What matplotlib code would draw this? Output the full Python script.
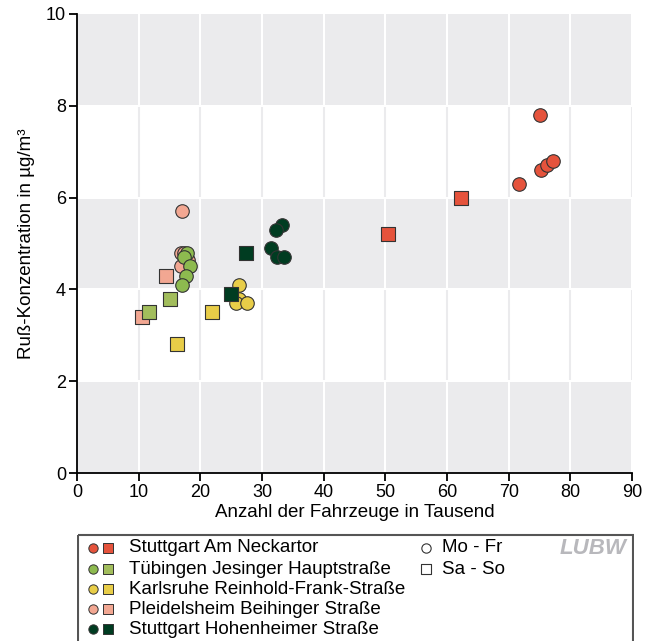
import matplotlib
matplotlib.use('Agg')
import matplotlib.pyplot as plt
from matplotlib.patches import Rectangle

plt.rcParams['font.family'] = ['Liberation Sans', 'DejaVu Sans']

# ── Daten (x: Fahrzeuge in Tausend, y: Ruß in µg/m³) ─────────────────────
STATIONS = ['Stuttgart Am Neckartor',
            'Tübingen Jesinger Hauptstraße',
            'Karlsruhe Reinhold-Frank-Straße',
            'Pleidelsheim Beihinger Straße',
            'Stuttgart Hohenheimer Straße']
COLORS_CIRCLE = ['#e5533c', '#8dba4f', '#e8cd48', '#f2a792', '#003c21']
COLORS_SQUARE = ['#e5533c', '#a2bd5c', '#e8cd48', '#f2a792', '#003c21']

# Mo - Fr
wk_x = [
    [75.1, 71.7, 75.2, 76.2, 77.2],
    [17.8, 17.4, 18.4, 17.7, 17.1],
    [26.3, 26.2, 25.8, 27.6],
    [17.0, 16.8, 17.4, 18.0, 16.9],
    [33.2, 32.3, 31.4, 32.5, 33.5],
]
wk_y = [
    [7.8, 6.3, 6.6, 6.7, 6.8],
    [4.8, 4.7, 4.5, 4.3, 4.1],
    [4.1, 3.8, 3.7, 3.7],
    [5.7, 4.8, 4.8, 4.65, 4.5],
    [5.4, 5.3, 4.9, 4.7, 4.7],
]
# Sa - So
we_x = [
    [50.4, 62.2],
    [15.0, 11.6],
    [21.9, 16.2],
    [14.5, 10.5],
    [27.4, 24.9],
]
we_y = [
    [5.2, 6.0],
    [3.8, 3.5],
    [3.5, 2.8],
    [4.3, 3.4],
    [4.8, 3.9],
]
# Zeichenreihenfolge (Tübingen über Pleidelsheim, Hohenheimer über Karlsruhe)
ORDER = [3, 0, 2, 4, 1]

fig = plt.figure(figsize=(6.48, 6.41), dpi=100)
fig.patch.set_facecolor('white')
ax = fig.add_axes([77 / 648, 168 / 641, 555 / 648, 459 / 641])

# Hintergrundbänder + Gitter
ax.set_xlim(0, 90)
ax.set_ylim(0, 10)
for y0 in range(0, 10, 2):
    gray = (y0 // 2) % 2 == 0
    ax.axhspan(y0, y0 + 2, color='#ebebed' if gray else 'white', zorder=0, lw=0)
    for xv in range(10, 100, 10):
        ax.plot([xv, xv], [y0, y0 + 2], color='white' if gray else '#ebebed',
                lw=1.5, zorder=0.5)
for yv in (2, 4, 6, 8):
    ax.axhline(yv, color='white', lw=1.5, zorder=0.5)

for k, i in enumerate(ORDER):
    ax.scatter(wk_x[i], wk_y[i], s=95, marker='o', color=COLORS_CIRCLE[i],
               edgecolor='#333333', linewidth=0.8, zorder=3 + k * 0.1)
    ax.scatter(we_x[i], we_y[i], s=95, marker='s', color=COLORS_SQUARE[i],
               edgecolor='#333333', linewidth=0.8, zorder=3 + k * 0.1 + 0.05)

for s in ('top', 'right'):
    ax.spines[s].set_visible(False)
ax.spines['left'].set_linewidth(1.3)
ax.spines['bottom'].set_linewidth(1.3)
ax.set_xticks(range(0, 100, 10))
ax.set_yticks(range(0, 12, 2))
ax.tick_params(direction='out', length=6, width=1.3, labelsize=13, pad=2)
ax.set_xlabel('Anzahl der Fahrzeuge in Tausend', fontsize=13.5, labelpad=2)
ax.set_ylabel('Ruß-Konzentration in µg/m³', fontsize=13.5, labelpad=8)

# ── Legende ────────────────────────────────────────────────────────────────
lax = fig.add_axes([77 / 648, 0, 557 / 648, 108 / 641])
lax.set_xlim(77, 634)
lax.set_ylim(641, 533)
lax.axis('off')
lax.add_patch(Rectangle((78, 535), 555, 110, fill=False, edgecolor='#555555', lw=1.5))
rows = [548, 569, 589, 609, 629]
for i, name in enumerate(STATIONS):
    lax.scatter([93], [rows[i]], s=45, marker='o', color=COLORS_CIRCLE[i],
                edgecolor='#333333', linewidth=0.7)
    lax.scatter([108], [rows[i]], s=45, marker='s', color=COLORS_SQUARE[i],
                edgecolor='#333333', linewidth=0.7)
    lax.text(129, rows[i], name, fontsize=13.5, va='center', ha='left')
lax.scatter([426], [rows[0]], s=45, marker='o', color='white',
            edgecolor='#333333', linewidth=0.8)
lax.scatter([426], [rows[1]], s=45, marker='s', color='white',
            edgecolor='#333333', linewidth=0.8)
lax.text(442, rows[0], 'Mo - Fr', fontsize=13.5, va='center', ha='left')
lax.text(442, rows[1], 'Sa - So', fontsize=13.5, va='center', ha='left')
lax.text(593, rows[0] + 1, 'LUBW', fontsize=16, fontweight='bold', style='italic',
         color='#b8b8bc', va='center', ha='center')

fig.savefig('out.png', dpi=100)
plt.close(fig)
